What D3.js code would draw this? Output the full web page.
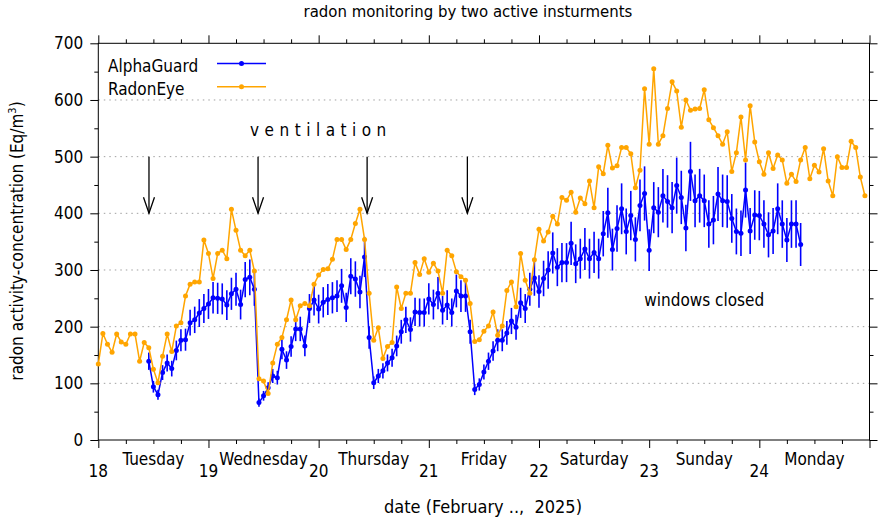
<!DOCTYPE html>
<html>
<head>
<meta charset="utf-8">
<script src="https://cdn.jsdelivr.net/npm/d3@7"></script>
<style>
	body { margin: 0; background: #fff; }
	text { font-family: "DejaVu Sans", sans-serif; font-stretch: condensed; font-size: 17px; fill: #000; }
</style>
</head>
<body>
<script>
// radon monitoring - hourly values, February 18..25 2025

var days = [18, 19, 20, 21, 22, 23, 24, 25];
var dayNames = ["Tuesday", "Wednesday", "Thursday", "Friday", "Saturday", "Sunday", "Monday"];
var yTicks = [0, 100, 200, 300, 400, 500, 600, 700];

// RadonEye, hourly from 18.0 (hour 0)
var reStartHour = 0;
var radonEye = [
	134, 188, 169, 155, 187, 173, 169, 187, 187, 139, 172, 163, 125, 101, 148, 187, 156, 201, 207, 254, 275, 279, 279, 353,
	329, 285, 329, 335, 320, 407, 370, 335, 325, 335, 298, 108, 104, 82, 136, 169, 181, 212, 247, 212, 237, 241, 237, 275,
	291, 301, 302, 319, 354, 354, 336, 354, 382, 407, 354, 259, 176, 198, 144, 165, 172, 270, 232, 259, 259, 313, 292, 320,
	296, 312, 298, 259, 335, 325, 297, 288, 282, 241, 174, 177, 192, 201, 226, 185, 201, 264, 279, 235, 329, 282, 259, 318,
	372, 351, 367, 395, 381, 428, 423, 437, 402, 427, 417, 457, 410, 482, 470, 520, 480, 484, 516, 516, 505, 445, 476, 620,
	522, 655, 522, 537, 585, 632, 616, 552, 600, 582, 584, 585, 618, 565, 551, 537, 522, 544, 474, 507, 570, 494, 590, 526,
	491, 469, 507, 479, 503, 494, 453, 469, 456, 494, 516, 461, 485, 473, 514, 457, 431, 500, 481, 481, 527, 516, 464, 431
];

// AlphaGuard, hourly from 18.0 + 11 h
var agStartHour = 11;
var alphaGuard = [
	139, 94, 80, 119, 136, 126, 158, 176, 177, 207, 212, 224, 232,
	240, 251, 250, 249, 238, 258, 266, 239, 283, 287, 266, 66, 78, 92, 113, 110, 160, 141, 165, 196, 196, 166, 232, 247,
	231, 243, 248, 251, 254, 272, 234, 289, 284, 261, 323, 181, 101, 113, 122, 136, 145, 166, 191, 212, 195, 226, 225, 225,
	249, 239, 259, 229, 238, 225, 263, 254, 254, 191, 89, 98, 120, 139, 157, 176, 176, 189, 210, 199, 242, 232, 266, 286,
	262, 285, 300, 330, 305, 313, 313, 347, 311, 320, 337, 320, 331, 320, 364, 401, 336, 373, 408, 368, 396, 354, 414, 435,
	335, 410, 402, 431, 421, 410, 449, 428, 374, 474, 422, 431, 422, 381, 388, 434, 422, 421, 391, 368, 365, 441, 369, 397,
	396, 381, 362, 369, 408, 381, 353, 381, 381, 345
];
var agRelErr = 0.11;   // instrument uncertainty

// ventilation times (day units)
var ventTimes = [18.46, 19.45, 20.44, 21.35];

var w = 881, h = 519,
	x0 = 98.3, x1 = 869.5, y0 = 440, y1 = 43.3;

var svg = d3.select("body").append("svg")
	.attr("width", w)
	.attr("height", h)
	.style("background", "#fff");

var x = d3.scaleLinear().domain([18, 25]).range([x0, x1]);
var y = d3.scaleLinear().domain([0, 700]).range([y0, y1]);

var re = radonEye.map((v, i) => ({t: 18 + (reStartHour + i) / 24, v: v}));
var ag = alphaGuard.map((v, i) => ({t: 18 + (agStartHour + i) / 24, v: v}));

// grid
svg.append("g").selectAll("line")
	.data(yTicks.filter(d => d > 0 && d < 700))
	.enter().append("line")
	.attr("x1", x0).attr("x2", x1)
	.attr("y1", d => y(d)).attr("y2", d => y(d))
	.attr("stroke", "#a0a0a0")
	.attr("stroke-width", 1)
	.attr("stroke-dasharray", "1.5,4");

// axes (ticks outward)
var minorX = d3.range(18 * 4, 25 * 4 + 1).filter(d => d % 4 != 0).map(d => d / 4);
var minorY = d3.range(50, 700, 100);

function tickStyle(g){
	g.select(".domain").remove();
	g.selectAll("line").attr("stroke", "#000");
	g.selectAll("text").remove();
}

svg.append("g").attr("transform", "translate(0," + y0 + ")")
	.call(d3.axisBottom(x).tickValues(days).tickSize(8)).call(tickStyle);
svg.append("g").attr("transform", "translate(0," + y0 + ")")
	.call(d3.axisBottom(x).tickValues(minorX).tickSize(4)).call(tickStyle);
svg.append("g").attr("transform", "translate(0," + y1 + ")")
	.call(d3.axisTop(x).tickValues(days).tickSize(8)).call(tickStyle);
svg.append("g").attr("transform", "translate(0," + y1 + ")")
	.call(d3.axisTop(x).tickValues(minorX).tickSize(4)).call(tickStyle);

svg.append("g").attr("class", "yax").attr("transform", "translate(" + x0 + ",0)")
	.call(d3.axisLeft(y).tickValues(yTicks).tickSize(8).tickPadding(7))
	.call(g => g.select(".domain").remove())
	.call(g => g.selectAll("line").attr("stroke", "#000"));
svg.append("g").attr("transform", "translate(" + x0 + ",0)")
	.call(d3.axisLeft(y).tickValues(minorY).tickSize(4)).call(tickStyle);
svg.append("g").attr("transform", "translate(" + x1 + ",0)")
	.call(d3.axisRight(y).tickValues(yTicks).tickSize(8)).call(tickStyle);
svg.append("g").attr("transform", "translate(" + x1 + ",0)")
	.call(d3.axisRight(y).tickValues(minorY).tickSize(4)).call(tickStyle);

// d3 axis sets font attrs on the group; let the css win
svg.select(".yax").attr("font-family", null).attr("font-size", null);
svg.selectAll(".yax text").attr("fill", "#000");

// border
svg.append("rect")
	.attr("x", x0).attr("y", y1)
	.attr("width", x1 - x0).attr("height", y0 - y1)
	.attr("fill", "none").attr("stroke", "#000").attr("stroke-width", 1);

// day numbers + names
svg.append("g").selectAll("text")
	.data(days.slice(0, 7))
	.enter().append("text")
	.attr("x", d => x(d))
	.attr("y", 477)
	.attr("text-anchor", "middle")
	.text(d => d);

svg.append("g").selectAll("text")
	.data(dayNames)
	.enter().append("text")
	.attr("x", (d, i) => x(days[i] + 0.5))
	.attr("y", 465)
	.attr("text-anchor", "middle")
	.text(d => d);

// AlphaGuard with error bars
var blue = "#0000ff", orange = "#ffa500";
var line = d3.line().x(d => x(d.t)).y(d => y(d.v));

var gAg = svg.append("g");
gAg.selectAll("line.err")
	.data(ag)
	.enter().append("line")
	.attr("class", "err")
	.attr("x1", d => x(d.t)).attr("x2", d => x(d.t))
	.attr("y1", d => y(d.v * (1 - agRelErr)))
	.attr("y2", d => y(d.v * (1 + agRelErr)))
	.attr("stroke", blue).attr("stroke-width", 1.6);
gAg.append("path")
	.datum(ag)
	.attr("d", line)
	.attr("fill", "none").attr("stroke", blue).attr("stroke-width", 1.5);
gAg.selectAll("circle")
	.data(ag)
	.enter().append("circle")
	.attr("cx", d => x(d.t)).attr("cy", d => y(d.v))
	.attr("r", 2.5).attr("fill", blue);

// RadonEye
var gRe = svg.append("g");
gRe.append("path")
	.datum(re)
	.attr("d", line)
	.attr("fill", "none").attr("stroke", orange).attr("stroke-width", 1.5);
gRe.selectAll("circle")
	.data(re)
	.enter().append("circle")
	.attr("cx", d => x(d.t)).attr("cy", d => y(d.v))
	.attr("r", 2.5).attr("fill", orange);

// ventilation arrows
var gArr = svg.append("g");
ventTimes.forEach(function(t){
	var ax = x(t), yt = y(500), yb = y(400);
	gArr.append("line")
		.attr("x1", ax).attr("x2", ax).attr("y1", yt).attr("y2", yb)
		.attr("stroke", "#000").attr("stroke-width", 1.3);
	gArr.append("path")
		.attr("d", "M" + (ax - 5.5) + "," + (yb - 16) + "L" + ax + "," + yb + "L" + (ax + 5.5) + "," + (yb - 16))
		.attr("fill", "none").attr("stroke", "#000").attr("stroke-width", 1.3);
});

svg.append("text")
	.attr("x", 250).attr("y", 136)
	.style("letter-spacing", "5.5px")
	.text("ventilation");

svg.append("text")
	.attr("x", x(23.5)).attr("y", 306)
	.attr("text-anchor", "middle")
	.text("windows closed");

// legend
var legend = [["AlphaGuard", blue], ["RadonEye", orange]];
var gLeg = svg.append("g");
legend.forEach(function(d, i){
	var ly = 63.5 + i * 23.3;
	gLeg.append("text").attr("x", 108).attr("y", ly + 8).text(d[0]);
	gLeg.append("line").attr("x1", 217).attr("x2", 266).attr("y1", ly).attr("y2", ly)
		.attr("stroke", d[1]).attr("stroke-width", 1.5);
	gLeg.append("circle").attr("cx", 241.5).attr("cy", ly).attr("r", 2.5).attr("fill", d[1]);
});

// titles
svg.append("text")
	.attr("x", 468).attr("y", 17)
	.attr("text-anchor", "middle")
	.style("font-size", "16.6px")
	.text("radon monitoring by two active insturments");

svg.append("text")
	.attr("x", 483).attr("y", 513)
	.attr("text-anchor", "middle")
	.attr("xml:space", "preserve")
	.style("white-space", "pre")
	.style("font-size", "18px")
	.text("date (February ..,  2025)");

var yl = svg.append("text")
	.attr("transform", "translate(23,241) rotate(-90)")
	.attr("text-anchor", "middle");
yl.append("tspan").text("radon activity-concentration (Eq/m");
yl.append("tspan").attr("dy", -7).style("font-size", "11px").text("3");
yl.append("tspan").attr("dy", 7).text(")");
</script>
</body>
</html>
